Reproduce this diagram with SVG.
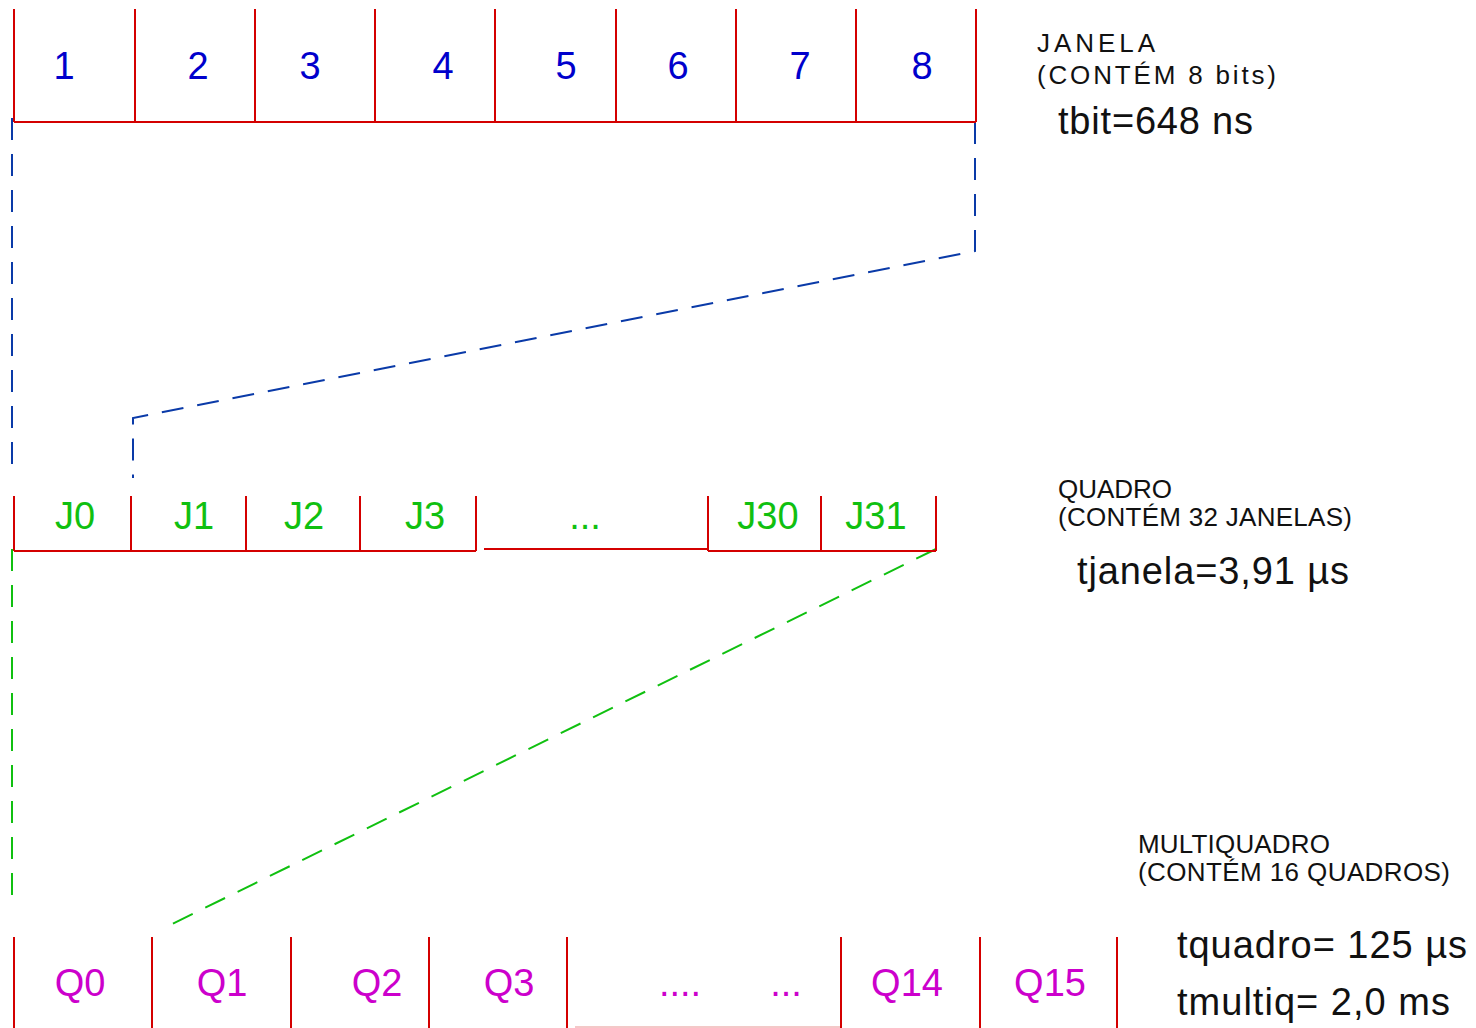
<svg xmlns="http://www.w3.org/2000/svg" width="1476" height="1028" viewBox="0 0 1476 1028">
  <style>
    .frame { stroke: #d40000; stroke-width: 2; fill: none; }
    .link-blue { stroke: #0a3aa8; stroke-width: 2; fill: none; stroke-dasharray: 22 14; }
    .link-green { stroke: #10c010; stroke-width: 2; fill: none; stroke-dasharray: 22 14; }
    text { font-family: "Liberation Sans", Arial, sans-serif; }
    .bit { font-size: 38px; fill: #0000cc; text-anchor: middle; }
    .win { font-size: 38px; fill: #10c010; text-anchor: middle; }
    .frm { font-size: 38px; fill: #cc00cc; text-anchor: middle; }
    .cap { font-size: 26px; fill: #111; }
    .time { font-size: 38px; fill: #111; }
  </style>

  <!-- connectors: dashed projections between levels -->
  <g id="connectors">
    <path class="link-blue" d="M12 118 V478"/>
    <path class="link-blue" d="M975 122 V251 L900 266 L133 418 V478"/>
    <path class="link-green" d="M12 549 V908"/>
    <path class="link-green" d="M936 549 L170 925"/>
  </g>

  <!-- window: 8 bits -->
  <g id="janela">
    <path class="frame" d="M14 122 H976 M14 9 V122 M135 9 V122 M255 9 V122 M375 9 V122 M495 9 V122 M616 9 V122 M736 9 V122 M856 9 V122 M976 9 V122"/>
    <text class="bit" x="64" y="79">1</text>
    <text class="bit" x="198" y="79">2</text>
    <text class="bit" x="310" y="79">3</text>
    <text class="bit" x="443" y="79">4</text>
    <text class="bit" x="566" y="79">5</text>
    <text class="bit" x="678" y="79">6</text>
    <text class="bit" x="800" y="79">7</text>
    <text class="bit" x="922" y="79">8</text>
  </g>
  <g id="janela-info">
    <text class="cap" x="1037" y="52" textLength="118" lengthAdjust="spacing">JANELA</text>
    <text class="cap" x="1037" y="84" textLength="239" lengthAdjust="spacing">(CONTÉM 8 bits)</text>
    <text class="time" x="1058" y="134" textLength="195" lengthAdjust="spacing">tbit=648 ns</text>
  </g>

  <!-- frame: 32 windows -->
  <g id="quadro">
    <path class="frame" d="M14 551 H476 M14 496 V551 M131 496 V551 M246 496 V551 M360 496 V551 M476 496 V551"/>
    <path class="frame" d="M484 549 H708"/>
    <path class="frame" d="M708 551 H936 M708 496 V551 M821 496 V551 M936 496 V551"/>
    <text class="win" x="75" y="529">J0</text>
    <text class="win" x="194" y="529">J1</text>
    <text class="win" x="304" y="529">J2</text>
    <text class="win" x="425" y="529">J3</text>
    <text class="win" x="585" y="529">...</text>
    <text class="win" x="768" y="529">J30</text>
    <text class="win" x="876" y="529">J31</text>
  </g>
  <g id="quadro-info">
    <text class="cap" x="1058" y="498" textLength="114" lengthAdjust="spacing">QUADRO</text>
    <text class="cap" x="1058" y="526" textLength="294" lengthAdjust="spacing">(CONTÉM 32 JANELAS)</text>
    <text class="time" x="1077" y="584" textLength="272" lengthAdjust="spacing">tjanela=3,91 µs</text>
  </g>

  <!-- multiframe: 16 frames -->
  <g id="multiquadro">
    <path class="frame" d="M14 937 V1028 M152 937 V1028 M291 937 V1028 M429 937 V1028 M567 937 V1028 M841 937 V1028 M980 937 V1028 M1117 937 V1028"/>
    <path d="M575 1027 H840" stroke="#f4c8c8" stroke-width="2"/>
    <text class="frm" x="80" y="996">Q0</text>
    <text class="frm" x="222" y="996">Q1</text>
    <text class="frm" x="377" y="996">Q2</text>
    <text class="frm" x="509" y="996">Q3</text>
    <text class="frm" x="680" y="996">....</text>
    <text class="frm" x="786" y="996">...</text>
    <text class="frm" x="907" y="996">Q14</text>
    <text class="frm" x="1050" y="996">Q15</text>
  </g>
  <g id="multiquadro-info">
    <text class="cap" x="1138" y="853" textLength="192" lengthAdjust="spacing">MULTIQUADRO</text>
    <text class="cap" x="1138" y="881" textLength="312" lengthAdjust="spacing">(CONTÉM 16 QUADROS)</text>
    <text class="time" x="1177" y="958" textLength="290" lengthAdjust="spacing">tquadro= 125 µs</text>
    <text class="time" x="1177" y="1015" textLength="273" lengthAdjust="spacing">tmultiq= 2,0 ms</text>
  </g>
</svg>
